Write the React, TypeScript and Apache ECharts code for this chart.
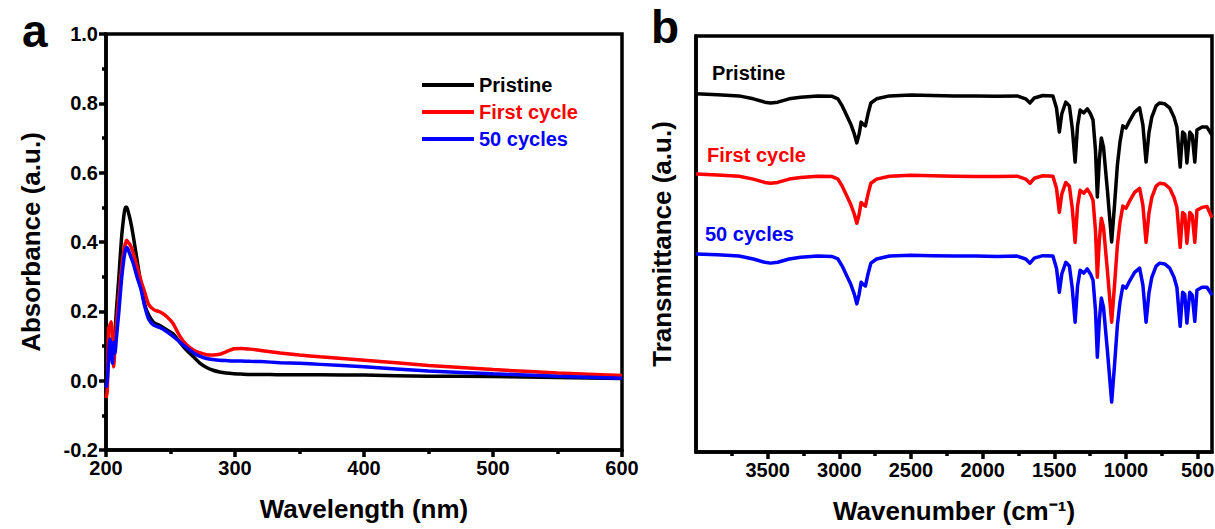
import React, { useEffect, useRef } from "react";
import * as echarts from "echarts";

// ---------- Panel a: UV-vis absorbance ----------
const uvWavelength = [200, 201, 202, 203, 204, 205, 206, 207, 208, 210, 212, 214, 215, 216, 217, 219, 221, 224, 227, 230, 233, 237, 242, 247, 252, 257, 262, 268, 273, 278, 283, 288, 293, 299, 305, 312, 320, 335, 350, 366, 400, 450, 500, 550, 600];
const uvPristine = [0.02, 0.04, 0.08, 0.1, 0.09, 0.07, 0.1, 0.14, 0.2, 0.3, 0.41, 0.48, 0.5, 0.5, 0.49, 0.46, 0.42, 0.35, 0.28, 0.22, 0.19, 0.168, 0.158, 0.147, 0.135, 0.112, 0.09, 0.068, 0.05, 0.038, 0.03, 0.025, 0.022, 0.02, 0.019, 0.018, 0.018, 0.017, 0.017, 0.017, 0.016, 0.013, 0.012, 0.009, 0.006];
const uvFirst = [-0.05, -0.03, 0.15, 0.16, 0.17, 0.12, 0.04, 0.1, 0.16, 0.24, 0.32, 0.38, 0.395, 0.405, 0.4, 0.39, 0.37, 0.33, 0.29, 0.255, 0.22, 0.205, 0.198, 0.185, 0.165, 0.13, 0.105, 0.088, 0.08, 0.075, 0.074, 0.076, 0.083, 0.092, 0.093, 0.091, 0.087, 0.08, 0.074, 0.069, 0.059, 0.044, 0.032, 0.022, 0.015];
const uv50 = [-0.02, 0.0, 0.06, 0.12, 0.1, 0.05, 0.11, 0.08, 0.12, 0.2, 0.29, 0.355, 0.375, 0.385, 0.38, 0.36, 0.34, 0.3, 0.265, 0.215, 0.178, 0.16, 0.153, 0.142, 0.128, 0.112, 0.097, 0.08, 0.07, 0.064, 0.061, 0.059, 0.058, 0.057, 0.057, 0.056, 0.055, 0.052, 0.05, 0.047, 0.04, 0.028, 0.02, 0.013, 0.007];

// ---------- Panel b: FTIR transmittance (offset, a.u.) ----------
const irWavenumber = [4000, 3850, 3700, 3600, 3520, 3480, 3430, 3350, 3270, 3150, 3050, 3010, 2980, 2950, 2920, 2895, 2878, 2862, 2848, 2835, 2818, 2800, 2780, 2740, 2650, 2500, 2350, 2200, 2050, 1900, 1760, 1700, 1670, 1640, 1580, 1510, 1485, 1465, 1448, 1420, 1395, 1375, 1355, 1338, 1320, 1295, 1270, 1248, 1230, 1213, 1200, 1186, 1172, 1157, 1130, 1100, 1080, 1060, 1042, 1022, 1000, 975, 940, 905, 882, 860, 840, 820, 790, 765, 730, 695, 665, 645, 622, 605, 590, 575, 555, 538, 520, 505, 470, 435, 400];
const irPristine = [86.1, 85.9, 85.6, 84.9, 84.1, 83.9, 84.1, 84.9, 85.3, 85.6, 85.5, 84.9, 83.2, 81.0, 78.8, 76.4, 74.3, 76.4, 79.3, 78.8, 78.4, 81.3, 83.9, 84.9, 85.6, 85.8, 85.7, 85.6, 85.6, 85.5, 85.6, 84.9, 83.9, 85.1, 85.7, 85.6, 82.7, 76.9, 81.3, 84.1, 83.2, 77.9, 69.7, 78.4, 82.2, 81.5, 82.5, 81.3, 79.8, 72.6, 61.3, 70.2, 75.5, 73.3, 63.0, 50.5, 59.4, 69.0, 74.5, 78.4, 77.9, 79.6, 81.7, 82.7, 78.6, 69.7, 76.7, 80.5, 83.2, 83.9, 83.7, 82.7, 80.5, 78.1, 68.5, 76.9, 76.4, 69.5, 76.9, 76.2, 69.7, 77.4, 78.1, 78.1, 76.2];
const irFirst = [66.8, 66.6, 66.3, 65.6, 64.8, 64.6, 64.8, 65.6, 66.0, 66.3, 66.2, 65.6, 63.9, 61.7, 59.5, 57.1, 55.0, 57.1, 60.0, 59.5, 59.1, 62.0, 64.6, 65.6, 66.3, 66.5, 66.4, 66.3, 66.2, 66.2, 66.3, 65.6, 64.6, 65.8, 66.4, 66.3, 63.4, 57.6, 62.0, 64.8, 63.9, 58.6, 50.4, 59.1, 62.9, 62.2, 63.2, 62.0, 60.5, 53.3, 42.0, 50.9, 56.2, 54.0, 43.7, 31.2, 40.1, 49.7, 55.2, 59.1, 58.6, 60.3, 62.4, 63.4, 59.3, 50.4, 57.4, 61.2, 63.9, 64.6, 64.4, 63.4, 61.2, 58.8, 49.2, 57.6, 57.1, 50.2, 57.6, 56.9, 50.4, 58.1, 58.8, 59.0, 56.3];
const ir50 = [47.6, 47.4, 47.1, 46.4, 45.6, 45.4, 45.6, 46.4, 46.8, 47.1, 47.0, 46.4, 44.7, 42.5, 40.3, 37.9, 35.6, 37.9, 40.8, 40.3, 39.9, 42.8, 45.4, 46.4, 47.1, 47.3, 47.2, 47.1, 47.1, 47.0, 47.1, 46.4, 45.4, 46.6, 47.2, 47.1, 44.2, 38.4, 42.8, 45.6, 44.7, 39.4, 31.2, 39.9, 43.7, 43.0, 44.0, 42.8, 41.3, 34.1, 22.8, 31.7, 37.0, 34.8, 24.5, 12.0, 20.9, 30.5, 36.0, 39.9, 39.4, 41.1, 43.2, 44.2, 40.1, 31.2, 38.2, 42.0, 44.7, 45.4, 45.2, 44.2, 42.0, 39.6, 30.2, 38.4, 37.9, 31.0, 38.4, 37.7, 31.4, 38.9, 39.6, 39.6, 37.7];

const irMajorTicks = [500, 1000, 1500, 2000, 2500, 3000, 3500];
const irMinorTicks = [750, 1250, 1750, 2250, 2750, 3250, 3750];

const seriesNames = ["Pristine", "First cycle", "50 cycles"];
const seriesColors = ["#000000", "#ff0000", "#0000ff"];

const FONT = '"Liberation Sans", Arial, sans-serif';

const zip = (xs: number[], ys: number[]) => xs.map((x, i) => [x, ys[i]]);

export default function App() {
  const ref = useRef<HTMLDivElement>(null);

  useEffect(() => {
    if (!ref.current) return;
    const chart = echarts.init(ref.current, null, { renderer: "svg" });

    const titleStyle = { fontSize: 26, fontWeight: "bold", color: "#000", fontFamily: FONT };
    const axisLine = { show: true, onZero: false, lineStyle: { color: "#000", width: 3.5 } };
    const majorTick = { show: true, length: 7, lineStyle: { color: "#000", width: 3.5 } };
    const minorTick = { show: true, splitNumber: 2, length: 4, lineStyle: { color: "#000", width: 3.5 } };
    const richTick = { t: { fontSize: 20, fontWeight: "bold", color: "#000", fontFamily: FONT } };
    const baseLabel = { show: true, margin: 8, fontSize: 20, fontWeight: "bold", color: "#000", fontFamily: FONT, rich: richTick };

    const uvSets = [uvPristine, uvFirst, uv50];
    const irSets = [irPristine, irFirst, ir50];

    const option: any = {
      animation: false,
      backgroundColor: "#fff",
      grid: [
        { left: 106, top: 34, width: 516, height: 416, show: true, borderColor: "#000", borderWidth: 3.5, backgroundColor: "transparent", outerBoundsMode: "none", containLabel: false },
        { left: 696, top: 36, width: 516, height: 416, show: true, borderColor: "#000", borderWidth: 3.5, backgroundColor: "transparent", outerBoundsMode: "none", containLabel: false },
      ],
      xAxis: [
        {
          gridIndex: 0, type: "value", min: 200, max: 600, interval: 100,
          axisLine, axisTick: majorTick, minorTick,
          splitLine: { show: false },
          axisLabel: { ...baseLabel, formatter: (v: number) => `{t|${v}}` },
          name: "Wavelength (nm)", nameLocation: "middle", nameGap: 46, nameTextStyle: titleStyle,
        },
        {
          gridIndex: 1, type: "value", min: 400, max: 4000, inverse: true,
          axisLine,
          axisTick: { ...majorTick, customValues: irMajorTicks },
          splitLine: { show: false },
          axisLabel: { ...baseLabel, customValues: irMajorTicks, formatter: (v: number) => `{t|${v}}` },
          name: "Wavenumber (cm\u207B\u00B9)", nameLocation: "middle", nameGap: 46, nameTextStyle: titleStyle,
        },
        {
          gridIndex: 1, type: "value", min: 400, max: 4000, inverse: true, position: "bottom",
          axisLine: { show: false, onZero: false },
          axisTick: { show: true, length: 4, customValues: irMinorTicks, lineStyle: { color: "#000", width: 3.5 } },
          splitLine: { show: false },
          axisLabel: { show: false },
        },
      ],
      yAxis: [
        {
          gridIndex: 0, type: "value", min: -0.2, max: 1.0, interval: 0.2,
          axisLine, axisTick: majorTick, minorTick,
          splitLine: { show: false },
          axisLabel: { ...baseLabel, formatter: (v: number) => `{t|${v.toFixed(1)}}` },
          name: "Absorbance (a.u.)", nameLocation: "middle", nameGap: 62, nameTextStyle: titleStyle,
        },
        {
          gridIndex: 1, type: "value", min: 0, max: 100,
          axisLine, axisTick: { show: false }, axisLabel: { show: false }, splitLine: { show: false },
          name: "Transmittance (a.u.)", nameLocation: "middle", nameGap: 21, nameTextStyle: titleStyle,
        },
      ],
      legend: {
        data: seriesNames.map((n, i) => ({ name: n, textStyle: { color: seriesColors[i] } })),
        orient: "vertical", left: 417, top: 70, itemWidth: 52, itemHeight: 4, itemGap: 7,
        icon: "rect",
        textStyle: { fontSize: 20, fontWeight: "bold", fontFamily: FONT },
      },
      graphic: [
        { type: "text", left: 22, top: 8, style: { text: "a", font: `bold 46px ${FONT}`, fill: "#000" } },
        { type: "text", left: 651, top: 4, style: { text: "b", font: `bold 46px ${FONT}`, fill: "#000" } },
        { type: "text", x: 712, y: 73, style: { text: "Pristine", font: `bold 20px ${FONT}`, fill: seriesColors[0], verticalAlign: "middle" } },
        { type: "text", x: 707, y: 155, style: { text: "First cycle", font: `bold 20px ${FONT}`, fill: seriesColors[1], verticalAlign: "middle" } },
        { type: "text", x: 705, y: 234, style: { text: "50 cycles", font: `bold 20px ${FONT}`, fill: seriesColors[2], verticalAlign: "middle" } },
      ],
      series: [
        ...seriesNames.map((n, i) => ({
          name: n, type: "line", xAxisIndex: 0, yAxisIndex: 0,
          data: zip(uvWavelength, uvSets[i]), showSymbol: false, smooth: 0.2,
          lineStyle: { color: seriesColors[i], width: 3.5 }, itemStyle: { color: seriesColors[i] },
        })),
        ...[2, 1, 0].map((i) => ({
          name: seriesNames[i] + " FTIR", type: "line", xAxisIndex: 1, yAxisIndex: 1,
          data: zip(irWavenumber, irSets[i]), showSymbol: false,
          lineStyle: { color: seriesColors[i], width: 3.5, join: "round" }, itemStyle: { color: seriesColors[i] },
        })),
      ],
    };

    chart.setOption(option);
    return () => chart.dispose();
  }, []);

  return <div ref={ref} style={{ position: "fixed", left: 0, top: 0, width: 1215, height: 529 }} />;
}
